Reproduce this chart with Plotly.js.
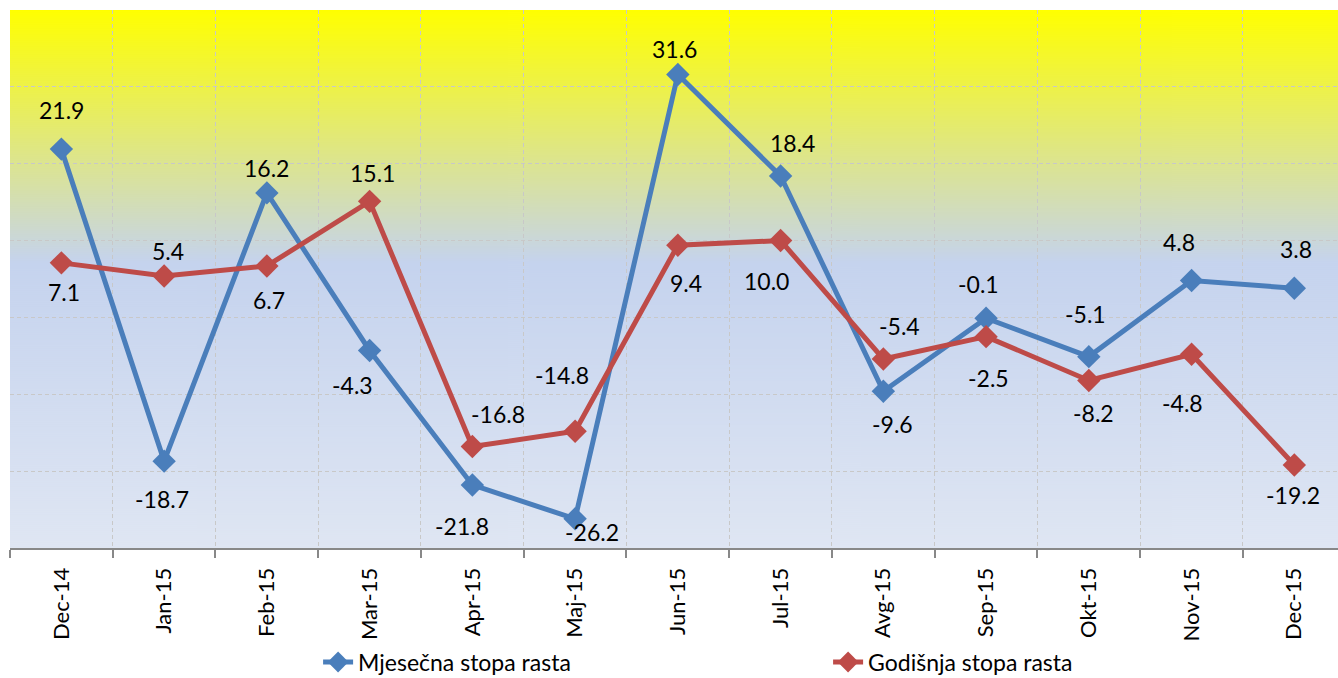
<!DOCTYPE html>
<html>
<head>
<meta charset="utf-8">
<script src="https://cdn.plot.ly/plotly-3.0.1.min.js"></script>
<style>html,body{margin:0;padding:0;background:#fff;}#chart{width:1338px;height:678px;}</style>
</head>
<body>
<div id="chart"></div>
<script>
// ---- data ----
const categories = ["Dec-14","Jan-15","Feb-15","Mar-15","Apr-15","Maj-15","Jun-15","Jul-15","Avg-15","Sep-15","Okt-15","Nov-15","Dec-15"];
const monthlyName = "Mjesečna stopa rasta";
const monthlyValues = [21.9, -18.7, 16.2, -4.3, -21.8, -26.2, 31.6, 18.4, -9.6, -0.1, -5.1, 4.8, 3.8];
const annualName = "Godišnja stopa rasta";
const annualValues = [7.1, 5.4, 6.7, 15.1, -16.8, -14.8, 9.4, 10.0, -5.4, -2.5, -8.2, -4.8, -19.2];

// ---- label offsets (px, label centre relative to point; +dy = down) ----
const monthlyLabelDx = [0, -2, 0, -17, -10, 17, -3, 12, 9, -8, -3, -13, 2];
const monthlyLabelDy = [-39, 38, -25, 35, 41, 13, -26, -33, 33, -34, -43, -39, -39];
const annualLabelDx = [3, 4, 2, 3, 26, -13, 8, -14, 16, 2, 5, -9, -1];
const annualLabelDy = [29, -25, 34, -28, -33, -56, 38, 40, -33, 41, 33, 49, 30];

const blue = "#4a7ebb";
const red = "#be4b48";
const font = "Lato, 'Open Sans', sans-serif";

// gradient background image
function gradientImage() {
  const c = document.createElement("canvas");
  c.width = 4; c.height = 538;
  const ctx = c.getContext("2d");
  const g = ctx.createLinearGradient(0, 0, 0, 538);
  g.addColorStop(0, "#ffff00");
  g.addColorStop(0.47, "#c5d3ee");
  g.addColorStop(1, "#dfe6f3");
  ctx.fillStyle = g;
  ctx.fillRect(0, 0, 4, 538);
  return c.toDataURL("image/png");
}

const traces = [
  {
    x: categories, y: monthlyValues, name: monthlyName, type: "scatter", mode: "lines+markers",
    line: {color: blue, width: 5}, marker: {symbol: "diamond", size: 18, color: blue},
    cliponaxis: false, hoverinfo: "x+y"
  },
  {
    x: categories, y: annualValues, name: annualName, type: "scatter", mode: "lines+markers",
    line: {color: red, width: 5}, marker: {symbol: "diamond", size: 18, color: red},
    cliponaxis: false, hoverinfo: "x+y"
  }
];

const annotations = [];
function addLabels(vals, dx, dy) {
  vals.forEach((v, i) => {
    annotations.push({
      x: categories[i], y: v, xref: "x", yref: "y",
      text: v.toFixed(1), showarrow: false,
      xshift: dx[i], yshift: -dy[i],
      font: {family: font, size: 23, color: "#000"}
    });
  });
}
addLabels(monthlyValues, monthlyLabelDx, monthlyLabelDy);
addLabels(annualValues, annualLabelDx, annualLabelDy);

const layout = {
  width: 1338, height: 678,
  margin: {l: 10, r: 0, t: 10, b: 130, pad: 0, autoexpand: false},
  paper_bgcolor: "#ffffff",
  plot_bgcolor: "rgba(0,0,0,0)",
  showlegend: true,
  legend: {
    orientation: "h", x: 0.232, xanchor: "left", y: -0.212, yanchor: "middle",
    font: {family: font, size: 23, color: "#000"},
    entrywidth: 465, entrywidthmode: "pixels",
    bgcolor: "rgba(0,0,0,0)"
  },
  xaxis: {
    type: "category", range: [-0.5, 12.425],
    tickson: "boundaries", ticks: "outside", ticklen: 8, tickcolor: "#888", tickwidth: 2,
    showline: true, linecolor: "#888", linewidth: 2,
    showgrid: true, gridcolor: "#c8c8c8", gridwidth: 1, griddash: "4px,3px",
    tickangle: -90, tickfont: {family: font, size: 22, color: "#000"},
    ticklabelstandoff: 9, automargin: false,
    fixedrange: true
  },
  yaxis: {
    range: [-30, 40], dtick: 10, tick0: 0,
    showticklabels: false, ticks: "",
    showline: false, zeroline: false,
    showgrid: true, gridcolor: "#c8c8c8", gridwidth: 1, griddash: "4px,3px",
    automargin: false, fixedrange: true
  },
  images: [{
    source: gradientImage(), xref: "paper", yref: "paper", x: 0, y: 1,
    sizex: 1, sizey: 1, xanchor: "left", yanchor: "top", sizing: "stretch", layer: "below"
  }],
  annotations: annotations
};

Plotly.newPlot("chart", traces, layout, {displayModeBar: false, staticPlot: true});
</script>
</body>
</html>
